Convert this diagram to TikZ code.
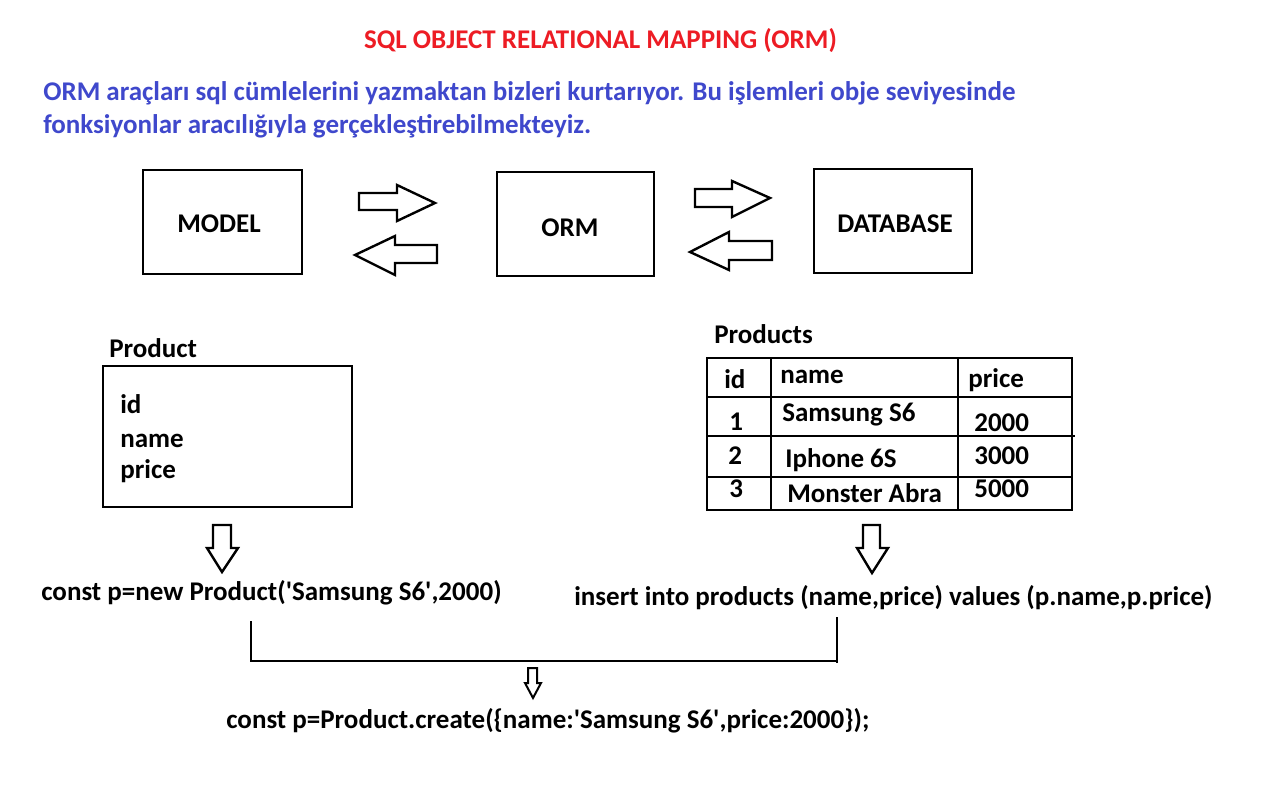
\documentclass[tikz,border=0pt]{standalone}
\usepackage{fontspec}
\setmainfont{Carlito}[Ligatures=TeXOff]
\definecolor{pred}{RGB}{237,28,36}
\definecolor{pblue}{RGB}{63,72,204}
\begin{document}
\begin{tikzpicture}[x=1pt,y=-1pt,
  line width=2.6pt, line join=miter,
  txt/.style={anchor=base west, inner sep=0pt, font=\fontsize{27}{30}\selectfont\bfseries},
  btxt/.style={txt, text=pblue},
  ttl/.style={anchor=base, inner sep=0pt, text=pred, font=\fontsize{27}{30}\selectfont\bfseries},
  bigbox/.style={draw, line width=2.6pt, minimum height=104pt, inner sep=0pt, font=\fontsize{27}{30}\selectfont\bfseries},
  blockarrow/.style={draw, line width=2.4pt, fill=white},
  rule/.style={line width=2.8pt}
]
\useasboundingbox[fill=white] (0,0) rectangle (1280,787);

% title and description
\node[ttl] (title) at (600.5,48) {SQL OBJECT RELATIONAL MAPPING (ORM)};
\node[btxt] (desc1) at (42,100) {ORM araçları sql cümlelerini yazmaktan bizleri kurtarıyor. Bu işlemleri obje seviyesinde};
\node[btxt] (desc2) at (42,133) {fonksiyonlar aracılığıyla gerçekleştirebilmekteyiz.};

% main boxes
\node[bigbox, minimum width=159pt] (model) at (222.5,222) {};
\node[txt, anchor=center] (modeltxt) at (219,224) {MODEL};
\node[bigbox, minimum width=157pt] (orm) at (575.5,224) {};
\node[txt, anchor=center] (ormtxt) at (570,228) {ORM};
\node[bigbox, minimum width=158pt] (db) at (893,221) {};
\node[txt, anchor=center] (dbtxt) at (895,224) {DATABASE};

% block arrows
\draw[blockarrow] (359,193) -- (397,193) -- (397,185) -- (435,203) -- (397,221) -- (397,210) -- (359,210) -- cycle;
\draw[blockarrow] (437,245) -- (395,245) -- (395,236) -- (355,255) -- (395,275) -- (395,263) -- (437,263) -- cycle;
\draw[blockarrow] (695,189) -- (732,189) -- (732,181) -- (770,198) -- (732,217) -- (732,207) -- (695,207) -- cycle;
\draw[blockarrow] (772,241) -- (729,241) -- (729,232) -- (690,252) -- (729,270) -- (729,260) -- (772,260) -- cycle;

% Product class
\node[txt] (prodlbl) at (108,357) {Product};
\node[draw, line width=2.6pt, minimum width=249pt, minimum height=141pt, inner sep=0pt] (prodbox) at (227.5,436.5) {};
\node[txt] (fid) at (119,413) {id};
\node[txt] (fname) at (119,447) {name};
\node[txt] (fprice) at (119,478) {price};

% Products table
\node[txt] (tbllbl) at (713,343) {Products};
\node[draw, line width=2.6pt, minimum width=365pt, minimum height=152pt, inner sep=0pt] (tbl) at (889.5,434) {};
\draw[line width=2.6pt] (771,358) -- (771,510);
\draw[line width=2.6pt] (958,358) -- (958,510);
\draw[line width=2.6pt] (707,397) -- (1072,397);
\draw[line width=2.6pt] (707,436) -- (1075,436);
\draw[line width=2.6pt] (707,477) -- (1072,477);
\node[txt] (h1) at (723,388) {id};
\node[txt] (h2) at (779,383) {name};
\node[txt] (h3) at (967,387) {price};
\node[txt] (r11) at (728,430) {1};
\node[txt] (r12) at (781,421) {Samsung S6};
\node[txt] (r13) at (973,431) {2000};
\node[txt] (r21) at (727,464) {2};
\node[txt] (r22) at (784,467) {Iphone 6S};
\node[txt] (r23) at (973,464) {3000};
\node[txt] (r31) at (728,497) {3};
\node[txt] (r32) at (786,502) {Monster Abra};
\node[txt] (r33) at (973,497) {5000};

% down arrows
\draw[blockarrow] (213,525) -- (231,525) -- (231,548) -- (238,548) -- (222,572) -- (207,548) -- (213,548) -- cycle;
\draw[blockarrow] (863,525) -- (880,525) -- (880,548) -- (888,548) -- (872,573) -- (857,548) -- (863,548) -- cycle;

% code lines
\node[txt] (code1) at (40,600) {const p=new Product('Samsung S6',2000)};
\node[txt] (code2) at (573,605) {insert into products (name,price) values (p.name,p.price)};

% bracket
\coordinate (bl) at (251,621);
\coordinate (bc) at (251,661);
\coordinate (br) at (837,661);
\coordinate (rt) at (837,617);
\coordinate (rb) at (837,663);
\draw[rule] (bl) -- (bc) -- (br);
\draw[rule] (rt) -- (rb);

\draw[blockarrow, line width=2pt] (528,668) -- (537,668) -- (537,683) -- (541,683) -- (533,698) -- (525,683) -- (528,683) -- cycle;

\node[txt] (code3) at (225,728) {const p=Product.create(\{name:'Samsung S6',price:2000\});};
\end{tikzpicture}
\end{document}
